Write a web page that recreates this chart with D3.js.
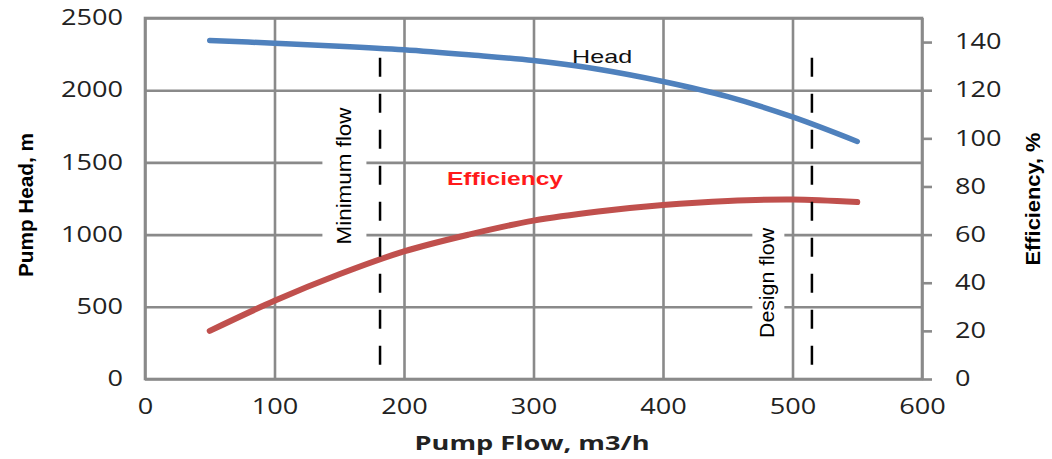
<!DOCTYPE html>
<html>
<head>
<meta charset="utf-8">
<script src="https://cdn.jsdelivr.net/npm/d3@7"></script>
<style>
  body { margin: 0; background: #fff; }
  svg { display: block; font-family: "Liberation Sans", Arial, sans-serif; }
</style>
</head>
<body>
<svg id="chart"></svg>
<script>
// values
const flows      = [50, 100, 150, 200, 250, 300, 350, 400, 450, 500, 550];
const headValues = [2345, 2325, 2305, 2280, 2245, 2205, 2145, 2060, 1955, 1815, 1645];
const effValues  = [20, 32.5, 43.5, 53, 60, 65.8, 69.6, 72.3, 74, 74.6, 73.5];

const flowTicks = [0, 100, 200, 300, 400, 500, 600];
const headTicks = [0, 500, 1000, 1500, 2000, 2500];
const effTicks  = [0, 20, 40, 60, 80, 100, 120, 140];

const minFlow = 181.5;
const designFlow = 515;
const markerRange = [40, 2225]; // dashed markers, in head units

class PumpCurveChart {

  constructor(_config) {
    this.config = {
      parentElement: _config.parentElement,
      containerWidth: _config.containerWidth || 1052,
      containerHeight: _config.containerHeight || 459,
      margin: { top: 18, bottom: 80, right: 130, left: 145 }
    }
    this.initVis();
  }

  initVis() {
    let vis = this;

    vis.width = vis.config.containerWidth - vis.config.margin.left - vis.config.margin.right;
    vis.height = vis.config.containerHeight - vis.config.margin.top - vis.config.margin.bottom;

    vis.svg = d3.select(vis.config.parentElement)
        .attr('width', vis.config.containerWidth)
        .attr('height', vis.config.containerHeight);

    vis.chart = vis.svg.append('g')
        .attr('transform', `translate(${vis.config.margin.left},${vis.config.margin.top})`);

    vis.xScale = d3.scaleLinear().domain([0, 600]).range([0, vis.width]);
    vis.yScale = d3.scaleLinear().domain([0, 2500]).range([vis.height, 0]);
    vis.y2Scale = d3.scaleLinear().domain([0, 150]).range([vis.height, 0]);

    const gridColor = '#8a8a8a';

    // grid
    vis.chart.append('g')
        .attr('class', 'grid')
        .call(d3.axisLeft(vis.yScale).tickValues(headTicks).tickSize(-vis.width).tickFormat(''))
        .call(g => g.select('.domain').remove());

    vis.chart.append('g')
        .attr('class', 'grid')
        .attr('transform', `translate(0,${vis.height})`)
        .call(d3.axisBottom(vis.xScale).tickValues(flowTicks).tickSize(vis.height).tickFormat(''))
        .call(g => g.select('.domain').remove())
        .selectAll('line').attr('y2', -vis.height);

    vis.chart.selectAll('.grid line')
        .attr('stroke', gridColor)
        .attr('stroke-width', 2.6);

    // frame
    vis.chart.append('rect')
        .attr('width', vis.width)
        .attr('height', vis.height)
        .attr('fill', 'none')
        .attr('stroke', gridColor)
        .attr('stroke-width', 2.6);

    // white boxes behind marker labels
    vis.chart.append('rect')
        .attr('x', vis.xScale(137))
        .attr('y', vis.yScale(1940))
        .attr('width', 44).attr('height', 152)
        .attr('fill', '#fff');
    vis.chart.append('rect')
        .attr('x', vis.xScale(469))
        .attr('y', vis.yScale(1100))
        .attr('width', 32).attr('height', 126)
        .attr('fill', '#fff');

    // axes (labels only)
    const tickFont = '"Open Sans", "Noto Sans", sans-serif';

    vis.chart.append('g')
        .call(d3.axisLeft(vis.yScale).tickValues(headTicks).tickFormat(d3.format('d'))
          .tickSize(0).tickPadding(22))
        .call(g => g.select('.domain').remove());

    vis.chart.append('g')
        .attr('transform', `translate(0,${vis.height})`)
        .call(d3.axisBottom(vis.xScale).tickValues(flowTicks).tickFormat(d3.format('d'))
          .tickSize(0).tickPadding(20))
        .call(g => g.select('.domain').remove());

    vis.chart.append('g')
        .attr('class', 'right-axis')
        .attr('transform', `translate(${vis.width},0)`)
        .call(d3.axisRight(vis.y2Scale).tickValues(effTicks).tickFormat(d3.format('d'))
          .tickSize(10).tickPadding(23))
        .call(g => g.select('.domain').remove())
        .selectAll('line')
          .attr('stroke', gridColor)
          .attr('stroke-width', 2.6);

    vis.chart.selectAll('.tick text')
        .style('font-family', tickFont)
        .style('font-size', '21px')
        .attr('fill', '#222')
        .attr('lengthAdjust', 'spacingAndGlyphs')
        .attr('textLength', function() { return this.textContent.length * 15.5; });

    // curves
    vis.line = (vals, scale) => d3.line()
        .x((d, i) => vis.xScale(flows[i]))
        .y(d => scale(d))
        .curve(d3.curveCatmullRom.alpha(0.5))(vals);

    vis.chart.append('path')
        .attr('d', vis.line(effValues, vis.y2Scale))
        .attr('fill', 'none')
        .attr('stroke', '#c0504d')
        .attr('stroke-width', 6)
        .attr('stroke-linecap', 'round');

    vis.chart.append('path')
        .attr('d', vis.line(headValues, vis.yScale))
        .attr('fill', 'none')
        .attr('stroke', '#4f81bd')
        .attr('stroke-width', 5.5)
        .attr('stroke-linecap', 'round');

    // dashed markers
    vis.chart.selectAll('.marker')
        .data([minFlow, designFlow])
        .join('line')
          .attr('class', 'marker')
          .attr('x1', d => vis.xScale(d))
          .attr('x2', d => vis.xScale(d))
          .attr('y1', vis.yScale(markerRange[1]))
          .attr('y2', vis.yScale(markerRange[0]))
          .attr('stroke', '#000')
          .attr('stroke-width', 2.5)
          .attr('stroke-dasharray', '19,17');

    const fit = (sel, w) => sel.attr('lengthAdjust', 'spacingAndGlyphs').attr('textLength', w);

    // marker labels
    vis.chart.append('text')
        .attr('transform', `translate(${vis.xScale(154)},${vis.yScale(1406)}) rotate(-90)`)
        .attr('text-anchor', 'middle')
        .attr('dy', '0.35em')
        .style('font-size', '20px')
        .text('Minimum flow')
        .call(fit, 137);

    vis.chart.append('text')
        .attr('transform', `translate(${vis.xScale(480.5)},${vis.yScale(665)}) rotate(-90)`)
        .attr('text-anchor', 'middle')
        .attr('dy', '0.35em')
        .style('font-size', '20px')
        .text('Design flow')
        .call(fit, 110);

    // series labels
    vis.chart.append('text')
        .attr('x', vis.xScale(353))
        .attr('y', vis.yScale(2188))
        .attr('text-anchor', 'middle')
        .style('font-size', '19px')
        .attr('fill', '#111')
        .text('Head')
        .call(fit, 60);

    vis.chart.append('text')
        .attr('x', vis.xScale(278))
        .attr('y', vis.yScale(1343))
        .attr('text-anchor', 'middle')
        .attr('font-weight', 'bold')
        .style('font-size', '19px')
        .attr('fill', '#ff1a1a')
        .text('Efficiency')
        .call(fit, 116);

    // axis titles
    vis.svg.append('text')
        .attr('transform', 'translate(33,205) rotate(-90)')
        .attr('text-anchor', 'middle')
        .attr('font-weight', 'bold')
        .style('font-size', '21px')
        .text('Pump Head, m')
        .call(fit, 144);

    vis.svg.append('text')
        .attr('transform', 'translate(1040,199) rotate(-90)')
        .attr('text-anchor', 'middle')
        .attr('font-weight', 'bold')
        .style('font-size', '21px')
        .text('Efficiency, %')
        .call(fit, 133);

    vis.svg.append('text')
        .attr('x', 532)
        .attr('y', 450)
        .attr('text-anchor', 'middle')
        .attr('font-weight', 'bold')
        .style('font-family', tickFont)
        .style('font-size', '20px')
        .attr('fill', '#222')
        .text('Pump Flow, m3/h')
        .call(fit, 235);
  }
}

new PumpCurveChart({ parentElement: '#chart' });
</script>
</body>
</html>
